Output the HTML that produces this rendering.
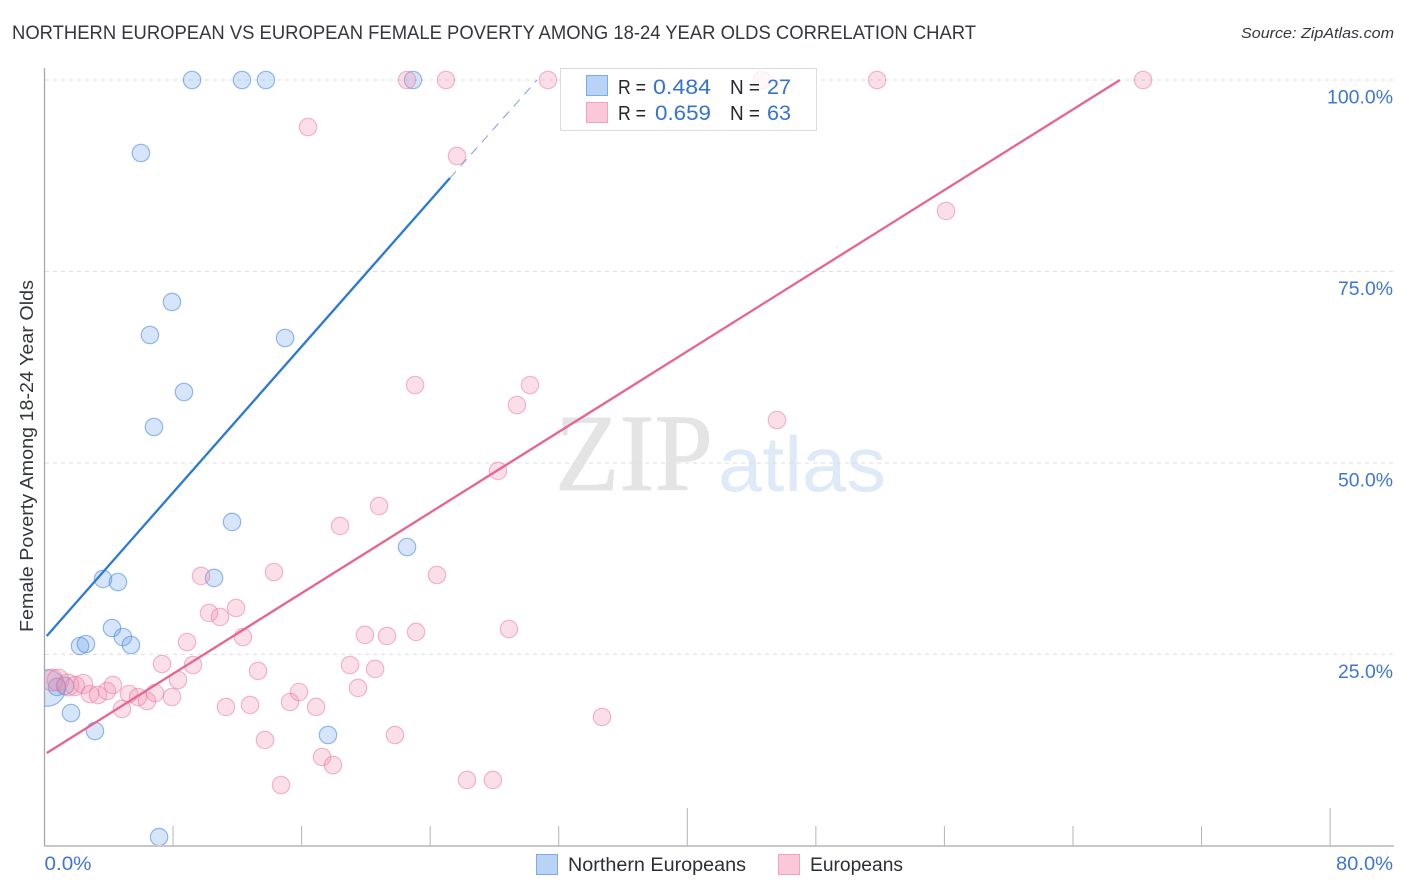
<!DOCTYPE html>
<html lang="en">
<head>
<meta charset="utf-8">
<title>Northern European vs European Female Poverty Correlation Chart</title>
<style>
html,body{margin:0;padding:0;background:#fff;width:1406px;height:892px;overflow:hidden}
svg{display:block;font-family:"Liberation Sans",sans-serif}
</style>
</head>
<body>
<svg id="chart" width="1406" height="892" viewBox="0 0 1406 892">
  <defs><clipPath id="plot-clip"><rect x="45" y="60" width="1349" height="785"/></clipPath></defs>
  <text x="12" y="39" font-size="19" fill="#33373d" textLength="964" lengthAdjust="spacingAndGlyphs">NORTHERN EUROPEAN VS EUROPEAN FEMALE POVERTY AMONG 18-24 YEAR OLDS CORRELATION CHART</text>
  <text x="1394" y="38" font-size="15" font-style="italic" fill="#33373d" text-anchor="end" textLength="153" lengthAdjust="spacingAndGlyphs">Source: ZipAtlas.com</text>
  <g>
    <text x="555" y="490" font-size="110" fill="#e4e4e4" stroke="#e4e4e4" stroke-width="0.8" textLength="158" lengthAdjust="spacingAndGlyphs" style="font-family:'Liberation Serif',serif">ZIP</text>
    <text x="718" y="491" font-size="78" fill="#dfeaf8" textLength="168" lengthAdjust="spacingAndGlyphs">atlas</text>
  </g>
  <g id="grid"></g>
  <g id="axes"></g>
  <g id="marks" clip-path="url(#plot-clip)"></g>
  <g id="labels"></g>
  <text transform="translate(33,456) rotate(-90)" font-size="18" fill="#33373d" text-anchor="middle" textLength="352" lengthAdjust="spacingAndGlyphs">Female Poverty Among 18-24 Year Olds</text>

  <g>
    <rect x="560.5" y="68.5" width="256" height="62" fill="#fff" fill-opacity="0.78" stroke="#dcdcdc"/>
    <rect x="586.5" y="75.5" width="21" height="20" fill="#b9d3f6" stroke="#7eaae6"/>
    <rect x="586.5" y="102.5" width="21" height="20" fill="#fac8d8" stroke="#f0a3bd"/>
    <g font-size="20" fill="#25282d">
      <text x="618" y="94" textLength="28" lengthAdjust="spacingAndGlyphs">R =</text>
      <text x="618" y="120" textLength="28" lengthAdjust="spacingAndGlyphs">R =</text>
      <text x="730" y="94" textLength="30" lengthAdjust="spacingAndGlyphs">N =</text>
      <text x="730" y="120" textLength="30" lengthAdjust="spacingAndGlyphs">N =</text>
    </g>
    <g font-size="21" fill="#3672d0">
      <text x="653" y="94" textLength="58" lengthAdjust="spacingAndGlyphs">0.484</text>
      <text x="655" y="120" textLength="56" lengthAdjust="spacingAndGlyphs">0.659</text>
      <text x="767" y="94" textLength="24" lengthAdjust="spacingAndGlyphs">27</text>
      <text x="767" y="120" textLength="24" lengthAdjust="spacingAndGlyphs">63</text>
    </g>
  </g>

  <g>
    <g>
      <rect x="536.5" y="854.5" width="21" height="20" fill="#b9d3f6" stroke="#7eaae6"/>
      <text x="568" y="871" font-size="19" fill="#2b2f36" textLength="178" lengthAdjust="spacingAndGlyphs">Northern Europeans</text>
    </g>
    <g>
      <rect x="778.5" y="854.5" width="21" height="20" fill="#fac8d8" stroke="#f0a3bd"/>
      <text x="810" y="871" font-size="19" fill="#2b2f36" textLength="93" lengthAdjust="spacingAndGlyphs">Europeans</text>
    </g>
  </g>
</svg>
<script>
const yTickValues = [25, 50, 75, 100];
const yTickLabels = ["25.0%", "50.0%", "75.0%", "100.0%"];
const xTickValues = [8, 16, 24, 32, 40, 48, 56, 64, 72, 80];
const xMajorTicks = [40, 80];
const xEndLabels = ["0.0%", "80.0%"];

const blueX = [9.18,12.29,13.78,22.93,6.0,7.93,6.56,14.97,8.68,6.81,11.67,22.56,10.55,3.64,4.57,4.2,4.88,5.38,2.21,2.58,0.16,0.78,1.28,1.65,3.14,17.64,7.13];
const blueY = [100,100,100,100,90.47,71.02,66.71,66.32,59.27,54.7,42.3,39.03,34.99,34.86,34.46,28.46,27.28,26.24,26.11,26.37,20.63,20.76,20.89,17.36,15.01,14.49,1.17];
const blueSize = [1,1,1,1,1,1,1,1,1,1,1,1,1,1,1,1,1,1,1,1,2.1,1,1,1,1,1,1];

const pinkX = [22.56,24.98,31.33,44.65,51.81,68.36,16.4,25.67,56.1,23.06,30.21,29.4,45.58,28.22,20.82,18.39,14.28,9.74,24.42,11.92,10.24,10.92,28.9,23.12,19.94,21.31,12.35,8.87,7.31,9.24,19.01,20.57,13.29,8.31,0.47,0.84,1.46,1.9,2.4,2.83,3.33,3.89,4.26,4.82,5.26,5.82,6.38,6.88,7.93,11.29,12.79,15.28,15.84,16.9,19.51,21.81,34.69,13.72,17.27,17.95,14.72,26.29,27.9];
const pinkY = [100,100,100,100,100,100,93.86,90.08,82.9,60.18,60.18,57.57,55.61,48.96,44.39,41.78,35.77,35.25,35.38,31.07,30.42,29.9,28.33,27.94,27.55,27.42,27.28,26.63,23.76,23.63,23.63,23.11,22.85,21.67,21.67,21.67,21.02,20.89,21.15,19.84,19.71,20.23,21.02,17.89,19.84,19.45,18.93,19.97,19.45,18.15,18.41,18.8,20.1,18.15,20.63,14.49,16.84,13.84,11.62,10.57,7.96,8.62,8.62];
const pinkSize = [1,1,1,1,1,1,1,1,1,1,1,1,1,1,1,1,1,1,1,1,1,1,1,1,1,1,1,1,1,1,1,1,1,1,1.25,1.25,1.25,1.1,1.1,1,1,1,1,1,1,1,1,1,1,1,1,1,1,1,1,1,1,1,1,1,1,1,1];

const blueTrendX = [0.14, 25.23];
const blueTrendY = [27.42, 87.2];
const blueDashX = [25.23, 30.65];
const blueDashY = [87.2, 100];
const pinkTrendX = [0.14, 66.92];
const pinkTrendY = [12.14, 100];

const xScale = v => 44.5 + v * 16.07;
const yScale = v => 846 - v * 7.66;
const NS = "http://www.w3.org/2000/svg";
function make(tag, attrs, parent) {
  const el = document.createElementNS(NS, tag);
  for (const k in attrs) el.setAttribute(k, attrs[k]);
  parent.appendChild(el);
  return el;
}
const gridG = document.getElementById("grid");
const axesG = document.getElementById("axes");
const marksG = document.getElementById("marks");
const labelsG = document.getElementById("labels");

yTickValues.forEach((v, i) => {
  const line = make("line", {x1: 45, x2: 1394, y1: yScale(v), y2: yScale(v), stroke: "#dedede", "stroke-width": 1, "stroke-dasharray": "4 4"}, gridG);
  
  
  const label = make("text", {x: 1393, y: yScale(v) + 23.5, "font-size": 19, fill: "#3f76d3", "text-anchor": "end", textLength: yTickLabels[i].length * 11, lengthAdjust: "spacingAndGlyphs"}, labelsG);
  label.textContent = yTickLabels[i];
  
  
});

const yAxis = make("line", {x1: 44.5, x2: 44.5, y1: 68, y2: 846, stroke: "#a8a8a8", "stroke-width": 1.3}, axesG);


const xAxis = make("line", {x1: 44, x2: 1394, y1: 846, y2: 846, stroke: "#a8a8a8", "stroke-width": 1.3}, axesG);


xTickValues.forEach(v => {
  const long = xMajorTicks.includes(v);
  const tick = make("line", {x1: xScale(v), x2: xScale(v), y1: long ? 808 : 826, y2: 846, stroke: "#b4b4b4", "stroke-width": 1}, axesG);
  
  
});

const xLabelLeft = make("text", {x: xScale(0), y: 870, "font-size": 19, fill: "#3f76d3", textLength: 47, lengthAdjust: "spacingAndGlyphs"}, labelsG);
xLabelLeft.textContent = xEndLabels[0];


const xLabelRight = make("text", {x: 1393, y: 870, "font-size": 19, fill: "#3f76d3", "text-anchor": "end", textLength: 57, lengthAdjust: "spacingAndGlyphs"}, labelsG);
xLabelRight.textContent = xEndLabels[1];



blueX.forEach((v, i) => {
  const dot = make("circle", {cx: xScale(v), cy: yScale(blueY[i]), r: 8.7 * blueSize[i], fill: "#6aa3ee", "fill-opacity": 0.28, stroke: "#3f83dc", "stroke-opacity": 0.55, "stroke-width": 1.2}, marksG);
  
  
});
pinkX.forEach((v, i) => {
  const dot = make("circle", {cx: xScale(v), cy: yScale(pinkY[i]), r: 8.7 * pinkSize[i], fill: "#f28cae", "fill-opacity": 0.28, stroke: "#e9749c", "stroke-opacity": 0.5, "stroke-width": 1.2}, marksG);
  
  
});

const blueLine = make("line", {x1: xScale(blueTrendX[0]), y1: yScale(blueTrendY[0]), x2: xScale(blueTrendX[1]), y2: yScale(blueTrendY[1]), stroke: "#2a78d8", "stroke-width": 2.3}, marksG);


const blueDash = make("line", {x1: xScale(blueDashX[0]), y1: yScale(blueDashY[0]), x2: xScale(blueDashX[1]), y2: yScale(blueDashY[1]), stroke: "#7d9fdc", "stroke-width": 1, "stroke-dasharray": "9 7"}, marksG);


const pinkLine = make("line", {x1: xScale(pinkTrendX[0]), y1: yScale(pinkTrendY[0]), x2: xScale(pinkTrendX[1]), y2: yScale(pinkTrendY[1]), stroke: "#e8648f", "stroke-width": 2.3}, marksG);


</script>
</body>
</html>
